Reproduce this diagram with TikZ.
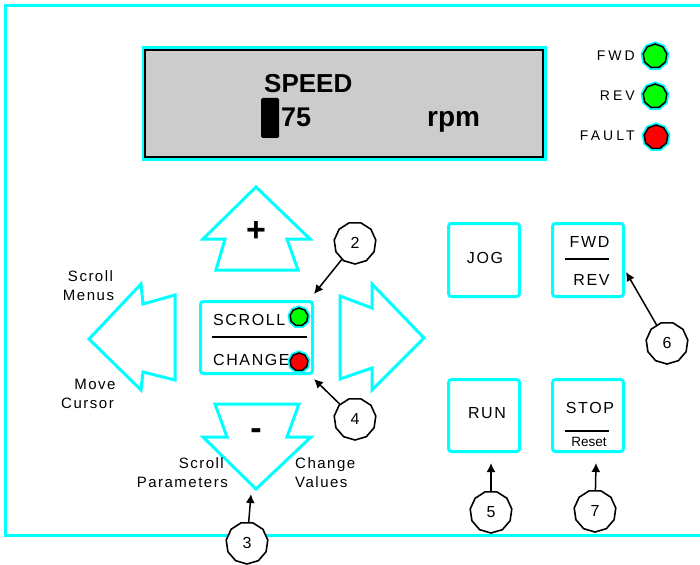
\documentclass[tikz,border=0pt]{standalone}
\usepackage{fontspec}
\setmainfont{Liberation Sans}
\newfontfamily\lblfont[LetterSpace=10]{Liberation Sans}
\newfontfamily\ledfont[LetterSpace=22]{Liberation Sans}
\usetikzlibrary{shapes.geometric,arrows.meta}
\definecolor{cy}{RGB}{0,255,255}
\definecolor{ledgreen}{RGB}{0,255,0}
\definecolor{ledred}{RGB}{255,0,0}
\definecolor{lcd}{RGB}{204,204,204}
\begin{document}
\begin{tikzpicture}[x=1pt,y=-1pt,
  keybox/.style={draw=cy,line width=3pt,rounded corners=3pt,minimum width=71pt,minimum height=73pt,inner sep=0pt},
  arrowshape/.style={draw=cy,line width=3pt,line join=miter},
  callout/.style={regular polygon,regular polygon sides=11,shape border rotate=180,draw=black,line width=1.6pt,fill=white,minimum size=42pt,inner sep=0pt,font=\fontsize{16}{18}\selectfont},
  led/.style={regular polygon,regular polygon sides=9,draw=black,line width=1.5pt,minimum size=24pt,inner sep=0pt,preaction={draw=cy,line width=5pt}},
  smallled/.style={led,minimum size=18pt,preaction={draw=cy,line width=4pt}},
  ptr/.style={-{Latex[length=9pt,width=9pt]},line width=1.5pt},
  lbl/.style={font=\lblfont\fontsize{15}{18}\selectfont,inner sep=0pt},
  keytxt/.style={font=\lblfont\fontsize{16}{18}\selectfont,inner sep=0pt},
  ledtxt/.style={font=\ledfont\fontsize{14}{16}\selectfont,inner sep=0pt,anchor=base east},
  lcdtxt/.style={font=\bfseries\fontsize{26}{28}\selectfont,inner sep=0pt,anchor=base west},
  bigsign/.style={font=\bfseries\fontsize{34}{36}\selectfont,inner sep=0pt},
  divider/.style={line width=1.5pt}
]
\useasboundingbox (0,0) rectangle (700,564);
\clip (0,0) rectangle (700,564);
% frame
\draw[cy,line width=3pt] (5.5,5.5) rectangle (720,535);

% display
\draw[fill=lcd,draw=black,line width=2pt,preaction={draw=cy,line width=7pt}] (145,50) rectangle (543,157);
\node[lcdtxt] (speed) at (264,93) {SPEED};
\fill[black,rounded corners=1.5pt] (261,98) rectangle (279,138);
\node[lcdtxt,font=\bfseries\fontsize{27}{30}\selectfont] (val) at (281,127) {75};
\node[lcdtxt,font=\bfseries\fontsize{28}{30}\selectfont] (rpm) at (427,127) {rpm};

% status LEDs
\node[ledtxt] (fwdlbl) at (635,61) {FWD};
\node[ledtxt] (revlbl) at (635,101) {REV};
\node[ledtxt] (faultlbl) at (635,141) {FAULT};
\node[led,fill=ledgreen] (fwdled) at (655,56) {};
\node[led,fill=ledgreen] (revled) at (655,96) {};
\node[led,fill=ledred] (faultled) at (656,137) {};

% arrow keys
\draw[arrowshape] (256,187) -- (310,239) -- (287,239) -- (298,270) -- (216,270) -- (225,239) -- (203,239) -- cycle;
\node[bigsign] (plus) at (256,232) {+};
\draw[arrowshape] (215,404) -- (299,404) -- (287,437) -- (311,437) -- (256,489) -- (203,437) -- (227,437) -- cycle;
\node[bigsign] (minus) at (256,434) {-};
\draw[arrowshape] (175,295) -- (143,304) -- (141,284) -- (89,339) -- (141,390) -- (143,372) -- (175,380) -- cycle;
\draw[arrowshape] (340,296) -- (372,308) -- (372,284) -- (424,338) -- (372,390) -- (372,368) -- (340,379) -- cycle;

% scroll / change key
\node[keybox,minimum width=112pt,minimum height=72pt] (sc) at (256.5,337.5) {};
\node[keytxt,anchor=base west] (scroll) at (213,325) {SCROLL};
\node[keytxt,anchor=base west] (change) at (213,365) {CHANGE};
\draw[divider] (212,337) -- (307,337);
\node[smallled,fill=ledgreen] (scled) at (299,317) {};
\node[smallled,fill=ledred] (chled) at (299,362) {};

% side labels
\node[lbl,anchor=base] (l1) at (90.5,281) {Scroll};
\node[lbl,anchor=base] (l2) at (88.5,300) {Menus};
\node[lbl,anchor=base] (l3) at (95,389) {Move};
\node[lbl,anchor=base] (l4) at (87.5,408) {Cursor};
\node[lbl,anchor=base east] (l5) at (224,468) {Scroll};
\node[lbl,anchor=base east] (l6) at (228,487) {Parameters};
\node[lbl,anchor=base west] (l7) at (295,468) {Change};
\node[lbl,anchor=base west] (l8) at (295,487) {Values};

% keys
\node[keybox] (jog) at (484,260) {};
\node[keytxt,anchor=base] (jogt) at (485,263) {JOG};
\node[keybox] (fr) at (588,260) {};
\node[keytxt,anchor=base] (frf) at (589.5,247) {FWD};
\draw[divider] (565,259) -- (609,259);
\node[keytxt,anchor=base] (frr) at (591.5,285) {REV};
\node[keybox,minimum height=72pt] (run) at (484,415.5) {};
\node[keytxt,anchor=base] (runt) at (487,418) {RUN};
\node[keybox,minimum height=72pt] (stop) at (588,415.5) {};
\node[keytxt,anchor=base] (stopt) at (590,413) {STOP};
\draw[divider] (565,431) -- (609,431);
\node[font=\fontsize{13.5}{15}\selectfont,inner sep=0pt,anchor=base] (reset) at (589,446) {Reset};

% callouts
\node[callout] (c2) at (355,243) {2};
\node[callout] (c4) at (355,419) {4};
\node[callout] (c3) at (247,543) {3};
\node[callout] (c5) at (491,512) {5};
\node[callout] (c6) at (667,343) {6};
\node[callout] (c7) at (595,511) {7};
\coordinate (t2) at (314,294);
\coordinate (t4) at (314,379);
\coordinate (t3) at (251,494);
\coordinate (t5) at (491,463);
\coordinate (t6) at (626,272);
\coordinate (t7) at (596,463);
\draw[ptr] (c2) -- (t2);
\draw[ptr] (c4) -- (t4);
\draw[ptr] (c3) -- (t3);
\draw[ptr] (c5) -- (t5);
\draw[ptr] (c6) -- (t6);
\draw[ptr] (c7) -- (t7);
\end{tikzpicture}
\end{document}
